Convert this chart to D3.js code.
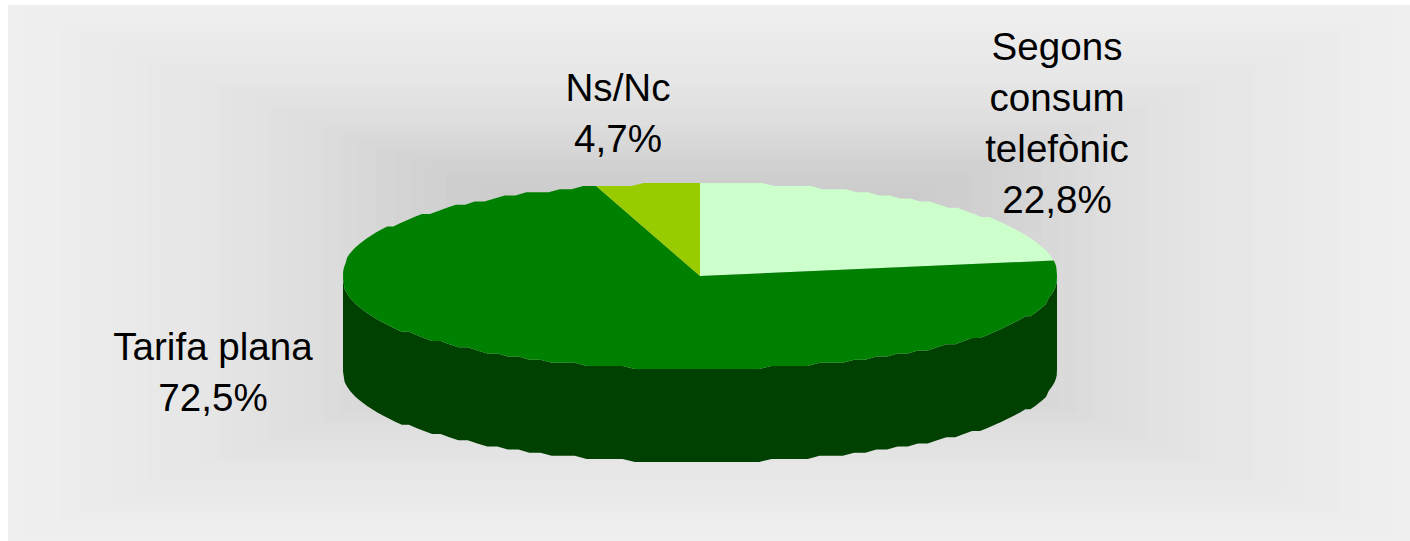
<!DOCTYPE html>
<html><head><meta charset="utf-8">
<script src="https://cdn.jsdelivr.net/npm/d3@7"></script>
<style>html,body{margin:0;padding:0;background:#fff}svg{display:block}text{font-family:"Liberation Sans",Arial,sans-serif;font-size:38.6px;fill:#000}</style>
</head><body><div id="c"></div>
<script>
const categories = ["Segons consum telefònic", "Tarifa plana", "Ns/Nc"];
const values = [22.8, 72.5, 4.7];
const valueLabels = ["22,8%", "72,5%", "4,7%"];
const labelLines = [["Segons", "consum", "telefònic"], ["Tarifa plana"], ["Ns/Nc"]];
const topColors = ["#CCFFCC", "#008000", "#99CC00"];
const wallColor = "#004000";

const W = 1410, H = 541;
const svg = d3.select("#c").append("svg").attr("width", W).attr("height", H);

// background: rectangular gradient
const bg = {x0: 8, x1: 1410, y0: 5, y1: 541};
const bcx = (bg.x0 + bg.x1) / 2, bcy = (bg.y0 + bg.y1) / 2;
const grey = d3.scaleLinear().domain([0, 0.44, 0.58, 0.71, 0.92, 1]).range([187, 211, 222, 229, 237, 239]);
d3.range(1, 0, -0.025).forEach(t => {
  const g = Math.round(grey(t));
  svg.append("rect")
    .attr("x", bcx - t * (bcx - bg.x0)).attr("y", bcy - t * (bcy - bg.y0))
    .attr("width", t * (bg.x1 - bg.x0)).attr("height", t * (bg.y1 - bg.y0))
    .attr("fill", `rgb(${g},${g},${g})`);
});

// pie geometry: slightly squared ellipse, rim heights snapped to a coarse grid as in the source raster
const cx = 700, cy = 276, rx = 357, ry = 93, depth = 93, grid = 3.1, stepA = 0.035;
const sx = d3.scaleLinear().domain([-1, 1]).range([cx - rx, cx + rx]);
const sy = d3.scaleLinear().domain([-1, 1]).range([cy - ry, cy + ry]);
const arcs = d3.pie().sort(null).value(d => d)(values);
const snap = (v, c) => c + Math.round((v - c) / grid) * grid;
const pt = a => {
  const co = Math.cos(a);
  return [sx(Math.sin(a)), snap(sy(-Math.sign(co) * Math.pow(Math.abs(co), 0.9)), cy)];
};
// rim samples lie on one shared angular lattice, so adjoining slices and the wall agree
const edge = (a0, a1) => {
  const inner = d3.range(Math.ceil(a0 / stepA), Math.floor(a1 / stepA) + 1).map(k => k * stepA);
  return [a0, ...inner, a1].map(pt);
};
const line = d3.line();

// wall
const front = edge(Math.PI / 2, 3 * Math.PI / 2);
svg.append("path")
  .attr("d", line(front.concat(front.slice().reverse().map(p => [p[0], p[1] + depth]))))
  .attr("fill", wallColor);

// top
svg.selectAll("path.top").data(arcs).join("path").attr("class", "top")
  .attr("d", d => line([[cx, cy], ...edge(d.startAngle, d.endAngle)]) + "Z")
  .attr("fill", (d, i) => topColors[i]);

// labels
const labelPos = [[1057, 60], [213, 360], [618, 101]];
const lh = 51;
categories.forEach((c, i) => {
  const lines = [...labelLines[i], valueLabels[i]];
  const t = svg.append("text").attr("text-anchor", "middle");
  lines.forEach((s, j) => t.append("tspan")
    .attr("x", labelPos[i][0]).attr("y", labelPos[i][1] + j * lh).text(s));
});
</script></body></html>
